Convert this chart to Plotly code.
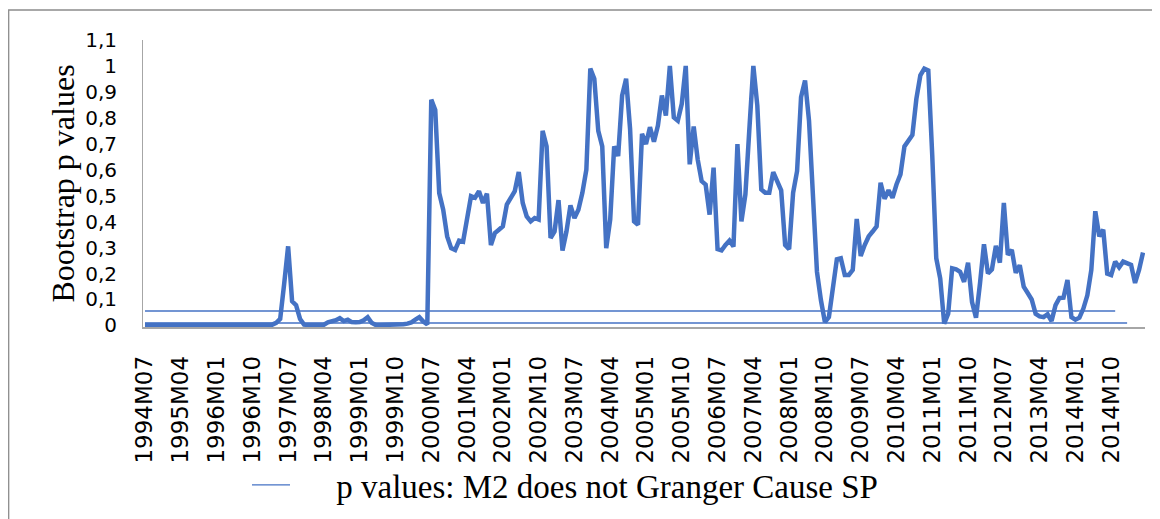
import plotly.graph_objects as go

# ---- data ----
start_year = 1994
start_month = 7

p_values = [
    0.002, 0.002, 0.002, 0.002, 0.002, 0.002, 0.002, 0.002, 0.002, 0.002,
    0.002, 0.002, 0.002, 0.002, 0.002, 0.002, 0.002, 0.002, 0.002, 0.002,
    0.002, 0.002, 0.002, 0.002, 0.002, 0.002, 0.002, 0.002, 0.002, 0.002,
    0.002, 0.002, 0.003, 0.010, 0.025, 0.160, 0.305, 0.093, 0.078, 0.025,
    0.003, 0.002, 0.002, 0.002, 0.002, 0.003, 0.012, 0.014, 0.020, 0.028,
    0.017, 0.022, 0.013, 0.012, 0.013, 0.020, 0.032, 0.010, 0.002, 0.001,
    0.001, 0.001, 0.001, 0.002, 0.002, 0.005, 0.007, 0.012, 0.022, 0.032,
    0.015, 0.004, 0.870, 0.830, 0.510, 0.446, 0.343, 0.298, 0.291, 0.327,
    0.323, 0.420, 0.498, 0.492, 0.517, 0.472, 0.508, 0.310, 0.356, 0.369,
    0.382, 0.466, 0.492, 0.517, 0.591, 0.472, 0.420, 0.401, 0.414, 0.408,
    0.750, 0.690, 0.337, 0.362, 0.483, 0.289, 0.362, 0.463, 0.414, 0.446,
    0.511, 0.600, 0.990, 0.951, 0.750, 0.690, 0.298, 0.408, 0.690, 0.653,
    0.886, 0.951, 0.757, 0.401, 0.388, 0.738, 0.699, 0.764, 0.708, 0.770,
    0.886, 0.809, 1.000, 0.802, 0.789, 0.854, 1.000, 0.621, 0.767, 0.640,
    0.556, 0.543, 0.427, 0.608, 0.294, 0.289, 0.310, 0.327, 0.304, 0.699,
    0.401, 0.505, 0.757, 1.000, 0.847, 0.524, 0.511, 0.511, 0.591, 0.556,
    0.521, 0.310, 0.294, 0.511, 0.595, 0.880, 0.944, 0.789, 0.498, 0.207,
    0.097, 0.013, 0.032, 0.149, 0.255, 0.259, 0.194, 0.194, 0.214, 0.410,
    0.268, 0.310, 0.343, 0.362, 0.382, 0.550, 0.488, 0.521, 0.492, 0.543,
    0.582, 0.690, 0.714, 0.734, 0.873, 0.964, 0.990, 0.983, 0.653, 0.259,
    0.181, 0.007, 0.045, 0.220, 0.216, 0.207, 0.168, 0.242, 0.090, 0.030,
    0.162, 0.313, 0.200, 0.216, 0.307, 0.242, 0.472, 0.272, 0.291, 0.203,
    0.232, 0.149, 0.125, 0.100, 0.045, 0.035, 0.032, 0.043, 0.017, 0.078,
    0.106, 0.107, 0.175, 0.032, 0.022, 0.030, 0.065, 0.116, 0.214, 0.440,
    0.343, 0.369, 0.200, 0.194, 0.246, 0.224, 0.246, 0.237, 0.233, 0.164,
    0.214, 0.281,
]

# two thin reference levels (shorter series in the original chart)
level_upper_value = 0.056
level_upper_len = 245
level_lower_value = 0.009
level_lower_len = 248

y_tick_vals = [0, 0.1, 0.2, 0.3, 0.4, 0.5, 0.6, 0.7, 0.8, 0.9, 1.0, 1.1]
y_tick_text = ["0", "0,1", "0,2", "0,3", "0,4", "0,5", "0,6", "0,7", "0,8", "0,9", "1", "1,1"]

legend_label = "p values: M2 does not Granger Cause SP"
y_title = "Bootstrap p values"

# ---- categories (months) ----
months = []
for k in range(len(p_values)):
    yy = start_year + (start_month - 1 + k) // 12
    mm = (start_month - 1 + k) % 12 + 1
    months.append(f"{yy}M{mm:02d}")
x_tick_labels = months[::9]

upper_level = [level_upper_value] * level_upper_len
lower_level = [level_lower_value] * level_lower_len

BLUE = "#4472C4"

# figure is placed inside the page's default 8px body margin
FIG_W, FIG_H = 1152, 511
M_L, M_R, M_T, M_B = 135, 15, 32, 192
PLOT_W = FIG_W - M_L - M_R
PLOT_H = FIG_H - M_T - M_B

fig = go.Figure()
fig.add_trace(go.Scatter(x=months[:level_upper_len], y=upper_level, mode="lines",
                         line=dict(color=BLUE, width=1.5), showlegend=False,
                         hoverinfo="skip"))
fig.add_trace(go.Scatter(x=months[:level_lower_len], y=lower_level, mode="lines",
                         line=dict(color=BLUE, width=1.5), showlegend=False,
                         hoverinfo="skip"))
fig.add_trace(go.Scatter(x=months, y=p_values, mode="lines",
                         line=dict(color=BLUE, width=4.5), showlegend=False,
                         name=legend_label))
# legend entry (thin line sample as in the original)
fig.add_trace(go.Scatter(x=[None], y=[None], mode="lines",
                         line=dict(color=BLUE, width=1.3),
                         name="\u00a0" * 5 + legend_label, showlegend=True))

fig.update_layout(
    width=FIG_W, height=FIG_H,
    margin=dict(l=M_L, r=M_R, t=M_T, b=M_B, autoexpand=False),
    paper_bgcolor="white", plot_bgcolor="white",
    showlegend=True,
    legend=dict(orientation="h", x=(239 - M_L) / PLOT_W, y=-(477 - (M_T + PLOT_H)) / PLOT_H,
                xanchor="left", yanchor="middle",
                font=dict(family="Liberation Serif", size=33, color="#000"),
                itemwidth=38, bgcolor="rgba(0,0,0,0)"),
    xaxis=dict(type="category", categoryorder="array", categoryarray=months,
               range=[-0.5, len(months) - 0.5], automargin=False,
               tickmode="array", tickvals=x_tick_labels, ticktext=x_tick_labels,
               tickangle=-90, ticks="", ticklabelstandoff=18,
               tickfont=dict(family="DejaVu Sans", size=23, color="#000"),
               showline=True, linecolor="#a6a6a6", linewidth=1.5,
               showgrid=False, zeroline=False, layer="below traces"),
    yaxis=dict(range=[-0.006, 1.1], tickmode="array", tickvals=y_tick_vals,
               ticktext=y_tick_text, ticks="", ticklabelstandoff=21, automargin=False,
               tickfont=dict(family="DejaVu Sans", size=20, color="#000"),
               showline=True, linecolor="#a6a6a6", linewidth=1,
               showgrid=False, zeroline=False, layer="below traces",
               title=dict(text=y_title, standoff=0,
                          font=dict(family="Liberation Serif", size=32, color="#000"))),
    shapes=[dict(type="rect", xref="paper", yref="paper",
                 x0=(0.7 - M_L) / PLOT_W, x1=(FIG_W + 20 - M_L) / PLOT_W,
                 y0=-(FIG_H + 20 - (M_T + PLOT_H)) / PLOT_H,
                 y1=(M_T + PLOT_H - 2) / PLOT_H,
                 line=dict(color="#8c8c8c", width=1.3), fillcolor="rgba(0,0,0,0)",
                 layer="below")],
)

fig.write_html("out.html")
